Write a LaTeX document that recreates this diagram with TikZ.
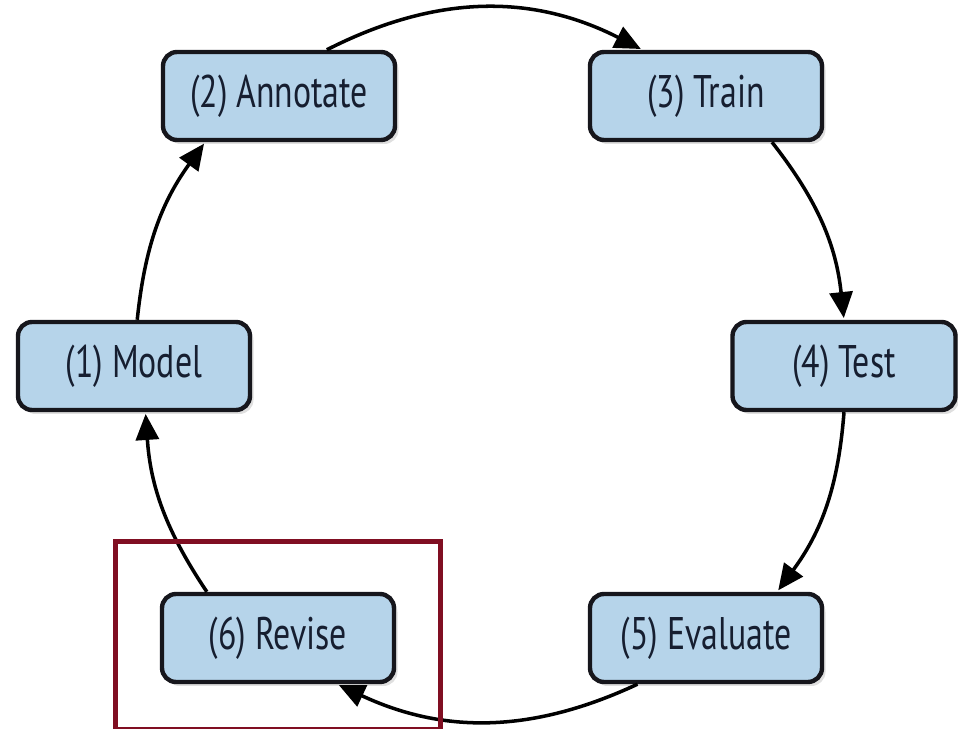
\documentclass[tikz,border=0pt]{standalone}
\usepackage{fontspec}
\setmainfont{PT Sans}[FakeStretch=0.74]
\usepackage{tikz}
\usetikzlibrary{arrows.meta,shadows,calc}
\definecolor{boxblue}{RGB}{182,212,234}
\definecolor{boxline}{RGB}{22,22,28}
\definecolor{inktext}{RGB}{22,30,48}
\definecolor{hired}{RGB}{128,14,34}
\tikzset{
  stage/.style={draw=boxline,fill=boxblue,line width=2.5pt,rounded corners=8pt,align=center,
    minimum width=4.64cm,minimum height=1.76cm,inner sep=2pt,text=inktext,
    font=\fontsize{26}{28}\selectfont,
    drop shadow={opacity=0.25,shadow xshift=0.07cm,shadow yshift=-0.08cm}},
  flow/.style={-{Triangle[length=0.52cm,width=0.46cm]},line width=2pt,shorten >=1pt},
  hilite/.style={draw=hired,line width=2.8pt}
}
\begin{document}
\begin{tikzpicture}
\useasboundingbox (0,0) rectangle (19.16,14.58);
\node[stage] (model) at (2.68,7.26) {(1) Model};
\node[stage] (ann) at (5.58,12.66) {(2) Annotate};
\node[stage] (train) at (14.12,12.66) {(3) Train};
\node[stage,minimum width=4.46cm] (test) at (16.88,7.26) {(4) Test};
\node[stage] (eval) at (14.12,1.82) {(5) Evaluate};
\node[stage] (rev) at (5.56,1.82) {(6) Revise};
% the cycle
\draw[flow] (ann.44) to[bend left=27] (train.144);
\draw[flow] (train.-35) to[bend left=16] (test.north);
\draw[flow] (test.south) to[bend left=16] (eval.33);
\draw[flow] (eval.-146) to[bend left=25] (rev.-38);
\draw[flow] (rev.147) to[bend left=15] (model.-76);
\draw[flow] (model.86) to[bend left=15] (ann.-148);
% highlight box
\draw[hilite] ($(rev.south west)+(-0.88,-0.9)$) rectangle ($(rev.north east)+(0.88,1.0)$);
\end{tikzpicture}
\end{document}
